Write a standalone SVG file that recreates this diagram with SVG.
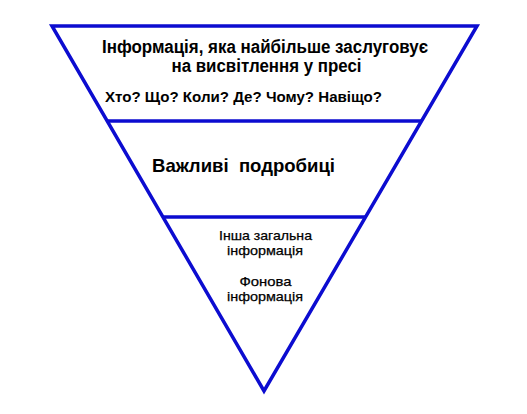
<svg xmlns="http://www.w3.org/2000/svg" width="527" height="414" viewBox="0 0 527 414">
<style>
.ln{stroke:#0c0cd0;stroke-width:3.5;fill:none;stroke-linejoin:miter}
.t{font-family:"Liberation Sans",Arial,sans-serif;fill:#000}
.b{font-weight:bold}
.m{stroke:#000;stroke-width:0.25;font-size:13px}
</style>
<rect width="527" height="414" fill="#fff"/>
<g id="connectors">
<polygon class="ln" points="52,26 477,26 264,391"/>
<line class="ln" x1="107" y1="121" x2="421" y2="121"/>
<line class="ln" x1="163" y1="217" x2="366" y2="217"/>
</g>
<g id="top">
<text class="t b" x="102" y="53" font-size="17.5" textLength="326" lengthAdjust="spacingAndGlyphs">Інформація, яка найбільше заслуговує</text>
<text class="t b" x="171.5" y="72" font-size="17.5" textLength="190" lengthAdjust="spacingAndGlyphs">на висвітлення у пресі</text>
<text class="t b" x="105" y="102" font-size="15" textLength="277" lengthAdjust="spacingAndGlyphs">Хто? Що? Коли? Де? Чому? Навіщо?</text>
</g>
<g id="middle">
<text class="t b" x="152" y="172" font-size="18.5" xml:space="preserve" textLength="183" lengthAdjust="spacingAndGlyphs">Важливі  подробиці</text>
</g>
<g id="bottom">
<text class="t m" x="219" y="240" textLength="93" lengthAdjust="spacingAndGlyphs">Інша загальна</text>
<text class="t m" x="227" y="255" textLength="76" lengthAdjust="spacingAndGlyphs">інформація</text>
<text class="t m" x="239.5" y="286" textLength="52" lengthAdjust="spacingAndGlyphs">Фонова</text>
<text class="t m" x="227" y="301" textLength="76" lengthAdjust="spacingAndGlyphs">інформація</text>
</g>
</svg>
